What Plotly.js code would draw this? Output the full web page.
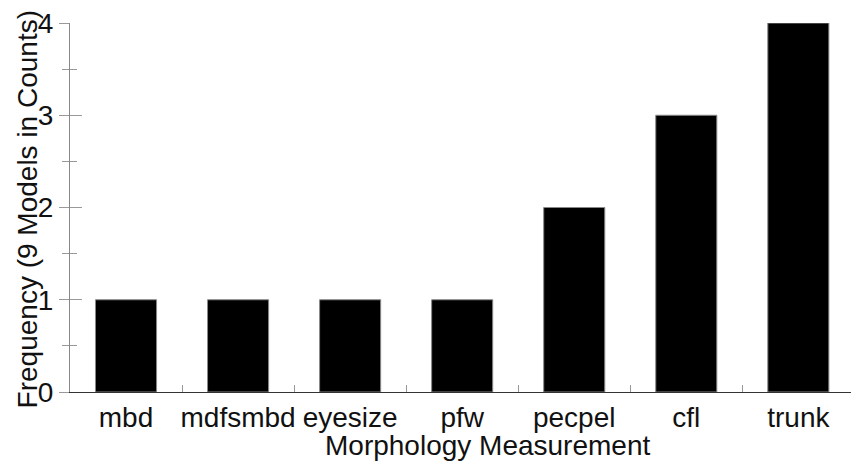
<!DOCTYPE html>
<html><head><meta charset="utf-8">
<script src="https://cdn.plot.ly/plotly-3.0.1.min.js"></script>
<style>html,body{margin:0;padding:0;background:#fff}#c{width:851px;height:466px}</style>
</head><body><div id="c"></div>
<script>
const categories = ["mbd","mdfsmbd","eyesize","pfw","pecpel","cfl","trunk"];
const frequency = [1,1,1,1,2,3,4];
const yTicks = [0,1,2,3,4];
const xTitle = "Morphology Measurement";
const yTitle = "Frequency (9 Models in Counts)";

const font = {family:"Liberation Sans, Arial, sans-serif", size:28, color:"#111"};
const data = [{
  type:"bar", x:categories, y:frequency,
  marker:{color:"#000", line:{color:"#888", width:1}},
  hoverinfo:"none"
},{
  type:"scatter", x:categories, y:frequency, yaxis:"y2", mode:"none", showlegend:false, hoverinfo:"none"
}];
const layout = {
  width:851, height:466,
  margin:{l:70, r:0, t:23, b:74},
  paper_bgcolor:"#fff", plot_bgcolor:"#fff",
  showlegend:false, bargap:0.455,
  font:font,
  xaxis:{
    range:[-0.5, 6.47], showline:true, linecolor:"#333", linewidth:1,
    ticks:"inside", tickson:"boundaries", ticklen:7, tickcolor:"#999", tickwidth:1,
    tickangle:0, automargin:false,
    showgrid:false, zeroline:false, tickfont:font
  },
  yaxis:{
    range:[0,4], tickvals:yTicks, showline:true, linecolor:"#888", linewidth:1,
    ticks:"outside", ticklen:10, tickcolor:"#999", tickwidth:1,
    minor:{dtick:0.5, ticks:"outside", ticklen:7, tickcolor:"#999", tickwidth:1, showgrid:false},
    showgrid:false, zeroline:false, tickfont:font, automargin:false
  },
  yaxis2:{
    overlaying:"y", range:[0,4], tickvals:yTicks, showticklabels:false,
    ticks:"inside", ticklen:12, tickcolor:"#999", tickwidth:1,
    minor:{dtick:0.5, ticks:"inside", ticklen:7, tickcolor:"#999", tickwidth:1},
    showgrid:false, zeroline:false, showline:false
  },
  annotations:[{
    text:xTitle, xref:"paper", yref:"paper", x:0.534, y:0, yshift:-53,
    xanchor:"center", yanchor:"middle", showarrow:false, font:font
  },{
    text:yTitle, xref:"paper", yref:"paper", x:-0.055, y:0.495, textangle:-90,
    xanchor:"center", yanchor:"middle", showarrow:false, font:font
  }]
};
Plotly.newPlot("c", data, layout, {displayModeBar:false, staticPlot:true});
</script></body></html>
